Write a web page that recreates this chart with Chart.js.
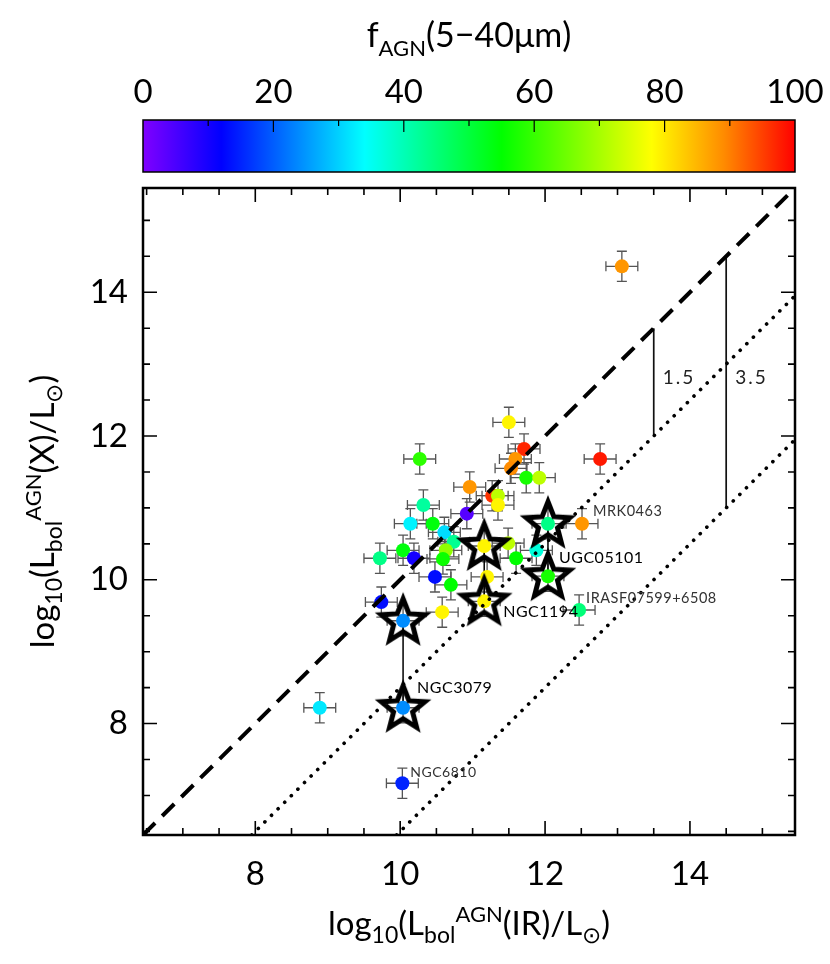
<!DOCTYPE html>
<html><head><meta charset="utf-8">
<script src="https://cdn.jsdelivr.net/npm/chart.js@4"></script>
<style>html,body{margin:0;padding:0;background:#fff}#wrap{width:830px;height:964px;position:relative}</style>
</head><body><div id="wrap"><canvas id="c" width="830" height="964"></canvas></div>
<script>
// ---------------- DATA ----------------
const xIR = [13.06, 12.76, 10.27, 11.50, 11.71, 11.59, 11.53, 11.74, 11.92, 10.96, 11.27, 11.35, 11.35, 10.92, 10.32, 10.14, 10.45, 10.61, 10.74, 10.04, 9.72, 10.19, 10.63, 10.59, 10.48, 10.70, 9.74, 10.58, 8.89, 10.03, 11.49, 11.60, 11.88, 11.20, 12.51, 12.47];
const yX   = [14.36, 11.68, 11.68, 12.19, 11.82, 11.68, 11.55, 11.42, 11.42, 11.29, 11.17, 11.17, 11.04, 10.92, 11.04, 10.78, 10.78, 10.66, 10.53, 10.41, 10.30, 10.30, 10.41, 10.29, 10.04, 9.93, 9.69, 9.55, 8.22, 7.17, 10.51, 10.30, 10.41, 10.04, 10.78, 9.58];
const fAGN = [88, 98, 59, 79, 97, 88, 89, 57, 72, 88, 96, 72, 79, 4, 42, 33, 54, 31, 43, 54, 44, 10, 68, 56, 13, 55, 13, 79, 32, 15, 72, 55, 37, 79, 88, 45];
const errX = 0.22;
const errY = 0.21;

// star-marked pairs (high and low estimate)
const pairNames = ['NGC3079', 'NGC1194', 'UGC05101'];
const pairX     = [10.04, 11.16, 12.04];
const pairYHigh = [9.43, 10.47, 10.78];
const pairYLow  = [8.22, 9.70, 10.05];
const pairFHigh = [24, 79, 44];
const pairFLow  = [24, 79, 57];

// labelled sources
const labelNames = ['NGC3079', 'NGC1194', 'UGC05101', 'MRK0463', 'IRASF07599+6508', 'NGC6810'];
const labelX     = [10.04, 11.16, 12.04, 12.51, 12.47, 10.03];
const labelY     = [8.22, 9.70, 10.05, 10.78, 9.58, 7.17];

// reference relations y = x - offset
const lineOffsets = [0, 1.5, 3.5];
const sepX = [13.5, 14.5];
const sepValues = [1.5, 3.5];

const axisMin = 6.45, axisMax = 15.45;
const majorTicks = [8, 10, 12, 14];
const cbarTicks = [0, 20, 40, 60, 80, 100];

// ---------------- STYLE ----------------
const FONT = 'Lato';
const cmapStops = [[0,[128,0,255]],[12,[0,0,255]],[23,[0,128,255]],[34,[0,255,255]],[55,[0,255,0]],[78,[255,255,0]],[89,[255,140,0]],[100,[255,0,0]]];
function cmap(v){
  for(let i=0;i<cmapStops.length-1;i++){
    const [a,ca]=cmapStops[i],[b,cb]=cmapStops[i+1];
    if(v<=b){const t=(v-a)/(b-a);return `rgb(${ca.map((c,k)=>Math.round(c+(cb[k]-c)*t)).join(',')})`;}
  }
  return 'rgb(255,0,0)';
}
const labelStyle = {
  NGC3079:{dx:14,dy:-20,size:16,color:'#000'},
  NGC1194:{dx:19,dy:10,size:16,color:'#000'},
  UGC05101:{dx:11,dy:-18,size:16,color:'#000'},
  MRK0463:{dx:11,dy:-12,size:14.5,color:'#333'},
  'IRASF07599+6508':{dx:7,dy:-12,size:14.5,color:'#333'},
  NGC6810:{dx:8,dy:-11,size:14,color:'#333'}
};

// star marker
const starImg = document.createElement('canvas');
starImg.width = 64; starImg.height = 64;
(function(){
  const g = starImg.getContext('2d');
  g.beginPath();
  const cx=32, cy=33, R=23, r=10;
  for(let i=0;i<10;i++){
    const ang = -Math.PI/2 + i*Math.PI/5;
    const rr = i%2===0?R:r;
    const px = cx+rr*Math.cos(ang), py = cy+rr*Math.sin(ang);
    if(i===0) g.moveTo(px,py); else g.lineTo(px,py);
  }
  g.closePath();
  g.lineWidth = 5; g.lineJoin='miter'; g.strokeStyle='#000'; g.stroke();
})();

function line(pts, opts){
  return Object.assign({type:'line', data:pts, borderColor:'#000', pointRadius:0, fill:false, tension:0, showLine:true}, opts);
}

const datasets = [];
datasets.push({label:'points', data:xIR.map((x,i)=>({x,y:yX[i]})), backgroundColor:fAGN.map(cmap), pointRadius:7, borderWidth:0, pointBorderWidth:0, order:5});
pairX.forEach((x,i)=>{
  datasets.push(line([{x,y:pairYHigh[i]},{x,y:pairYLow[i]}], {borderWidth:1.5, order:6}));
});
datasets.push({label:'pairpts', data:pairX.flatMap((x,i)=>[{x,y:pairYHigh[i]},{x,y:pairYLow[i]}]),
  backgroundColor:pairX.flatMap((x,i)=>[cmap(pairFHigh[i]),cmap(pairFLow[i])]), pointRadius:7, borderWidth:0, pointBorderWidth:0, order:4});
datasets.push({label:'stars', data:pairX.flatMap((x,i)=>[{x,y:pairYHigh[i]},{x,y:pairYLow[i]}]), pointStyle:starImg, pointRadius:22, order:3});
lineOffsets.forEach(off=>{
  const x0 = Math.max(axisMin, axisMin+off);
  const pts = [{x:x0,y:x0-off},{x:axisMax,y:axisMax-off}];
  if(off===0) datasets.push(line(pts,{borderWidth:4, borderDash:[17,10], order:1}));
  else datasets.push(line(pts,{borderWidth:3.6, borderDash:[0.1,9.2], borderCapStyle:'round', order:1}));
});
sepX.forEach((x,i)=>{
  datasets.push(line([{x,y:x},{x,y:x-sepValues[i]}],{borderWidth:1.7, borderColor:'#111', order:2}));
});

const errorBars = {
  id:'errorBars',
  beforeDatasetsDraw(chart){
    const {ctx, scales:{x:xs,y:ys}} = chart;
    ctx.save();
    ctx.strokeStyle='#555'; ctx.lineWidth=1.3;
    const all = xIR.map((x,i)=>[x,yX[i]]).concat(pairX.flatMap((x,i)=>[[x,pairYHigh[i]],[x,pairYLow[i]]]));
    const cap=5;
    all.forEach(([x,y])=>{
      const px=xs.getPixelForValue(x), py=ys.getPixelForValue(y);
      const xl=xs.getPixelForValue(x-errX), xr=xs.getPixelForValue(x+errX);
      const yt=ys.getPixelForValue(y+errY), yb=ys.getPixelForValue(y-errY);
      ctx.beginPath();
      ctx.moveTo(xl,py);ctx.lineTo(xr,py);
      ctx.moveTo(xl,py-cap);ctx.lineTo(xl,py+cap);
      ctx.moveTo(xr,py-cap);ctx.lineTo(xr,py+cap);
      ctx.moveTo(px,yt);ctx.lineTo(px,yb);
      ctx.moveTo(px-cap,yt);ctx.lineTo(px+cap,yt);
      ctx.moveTo(px-cap,yb);ctx.lineTo(px+cap,yb);
      ctx.stroke();
    });
    ctx.restore();
  }
};

function richText(ctx, parts, x, y){
  let total=0;
  parts.forEach(p=>{ctx.font=`${p.s}px ${FONT}`; p.w=ctx.measureText(p.t).width; total+=p.w;});
  let cur=x-total/2;
  ctx.textAlign='left'; ctx.textBaseline='alphabetic';
  parts.forEach(p=>{ctx.font=`${p.s}px ${FONT}`; ctx.fillText(p.t,cur,y+(p.dy||0)); cur+=p.w;});
}

const decor = {
  id:'decor',
  afterDraw(chart){
    const {ctx, chartArea:a, scales:{x:xs,y:ys}} = chart;
    ctx.save();
    // frame
    ctx.strokeStyle='#000'; ctx.lineWidth=2.5;
    ctx.strokeRect(a.left,a.top,a.right-a.left,a.bottom-a.top);
    // ticks
    ctx.lineWidth=1.6;
    ctx.beginPath();
    for(let v=6.5; v<=15.01; v+=0.5){
      const len = majorTicks.includes(v)?14:7;
      const px=xs.getPixelForValue(v), py=ys.getPixelForValue(v);
      ctx.moveTo(px,a.bottom);ctx.lineTo(px,a.bottom-len);
      ctx.moveTo(px,a.top);ctx.lineTo(px,a.top+len);
      ctx.moveTo(a.left,py);ctx.lineTo(a.left+len,py);
      ctx.moveTo(a.right,py);ctx.lineTo(a.right-len,py);
    }
    ctx.stroke();
    // colorbar
    const cb={l:a.left,r:a.right,t:120,b:172};
    const grad=ctx.createLinearGradient(cb.l,0,cb.r,0);
    cmapStops.forEach(([v,c])=>grad.addColorStop(v/100,`rgb(${c.join(',')})`));
    ctx.fillStyle=grad; ctx.fillRect(cb.l,cb.t,cb.r-cb.l,cb.b-cb.t);
    ctx.lineWidth=1.5; ctx.strokeStyle='#000'; ctx.strokeRect(cb.l,cb.t,cb.r-cb.l,cb.b-cb.t);
    ctx.beginPath();
    for(let v=10; v<100; v+=10){
      const px=cb.l+(cb.r-cb.l)*v/100;
      ctx.moveTo(px,cb.t); ctx.lineTo(px,cb.t+(v%20===0?12:6));
    }
    ctx.lineWidth=1.2; ctx.stroke();
    ctx.fillStyle='#000'; ctx.font=`33px ${FONT}`; ctx.textAlign='center'; ctx.textBaseline='alphabetic';
    cbarTicks.forEach(v=>{ ctx.fillText(String(v), cb.l+(cb.r-cb.l)*v/100, 103); });
    // colorbar title
    const cx=(a.left+a.right)/2;
    richText(ctx,[{t:'f',s:34},{t:'AGN',s:22,dy:9},{t:'(5\u221240\u03bcm)',s:34}],cx,47);
    // x title
    richText(ctx,[{t:'log',s:33},{t:'10',s:23,dy:8},{t:'(L',s:33},{t:'bol',s:23,dy:8},{t:'AGN',s:22,dy:-13},{t:'(IR)/L',s:33},{t:'\u2299',s:23,dy:8},{t:')',s:33}],cx,935);
    // y title
    ctx.save(); ctx.translate(54,(a.top+a.bottom)/2); ctx.rotate(-Math.PI/2);
    richText(ctx,[{t:'log',s:33},{t:'10',s:23,dy:8},{t:'(L',s:33},{t:'bol',s:23,dy:8},{t:'AGN',s:22,dy:-13},{t:'(X)/L',s:33},{t:'\u2299',s:23,dy:8},{t:')',s:33}],0,0);
    ctx.restore();
    // separation labels
    ctx.font=`19px ${FONT}`; ctx.fillStyle='#222'; ctx.textAlign='left'; ctx.textBaseline='middle';
    ctx.letterSpacing='2px';
    sepX.forEach((x,i)=>{ ctx.fillText(String(sepValues[i]), xs.getPixelForValue(x)+9, ys.getPixelForValue(12.81)); });
    ctx.letterSpacing='0.5px';
    // source labels
    labelNames.forEach((n,i)=>{
      const st=labelStyle[n];
      ctx.font=`${st.size}px ${FONT}`; ctx.fillStyle=st.color;
      ctx.fillText(n, xs.getPixelForValue(labelX[i])+st.dx, ys.getPixelForValue(labelY[i])+st.dy);
    });
    ctx.restore();
  }
};

new Chart(document.getElementById('c').getContext('2d'), {
  type:'scatter',
  data:{datasets},
  options:{
    responsive:false, animation:false, devicePixelRatio:1,
    layout:{padding:{top:188,right:35,left:0,bottom:0}},
    plugins:{legend:{display:false}, tooltip:{enabled:false}},
    scales:{
      x:{type:'linear', min:axisMin, max:axisMax,
        grid:{display:false, drawTicks:false}, border:{display:false},
        afterBuildTicks:s=>{s.ticks=majorTicks.map(v=>({value:v}));},
        afterFit:s=>{s.height=129;},
        ticks:{font:{family:FONT,size:33}, color:'#000', padding:20, maxRotation:0, autoSkip:false}},
      y:{type:'linear', min:axisMin, max:axisMax,
        grid:{display:false, drawTicks:false}, border:{display:false},
        afterBuildTicks:s=>{s.ticks=majorTicks.map(v=>({value:v}));},
        afterFit:s=>{s.width=143;},
        ticks:{font:{family:FONT,size:33}, color:'#000', padding:15, autoSkip:false}}
    }
  },
  plugins:[errorBars, decor]
});
</script>
</body></html>
